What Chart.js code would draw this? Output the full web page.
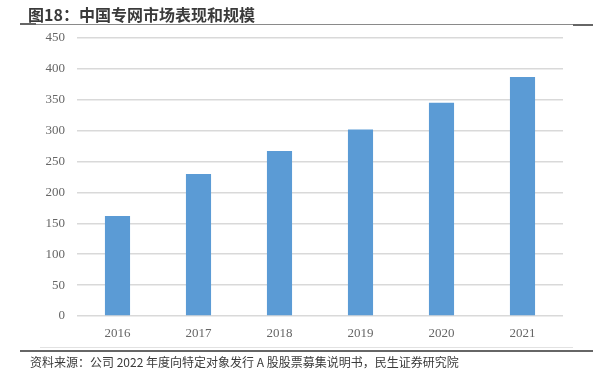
<!DOCTYPE html>
<html>
<head>
<meta charset="utf-8">
<script src="https://cdn.jsdelivr.net/npm/chart.js@4.4.1/dist/chart.umd.min.js"></script>
<style>
  html, body { margin: 0; padding: 0; background: #fff; }
  #wrap { position: relative; width: 601px; height: 388px; overflow: hidden; }
  #chartBox { position: absolute; left: 0; top: 0; width: 601px; height: 388px; }
  .title { position: absolute; left: 28px; top: 2px; font: bold 16px "Noto Sans CJK SC", sans-serif; color: #3a3a3a; white-space: nowrap; }
  .source { position: absolute; left: 30px; top: 353px; font: 12px "Noto Sans CJK SC", sans-serif; color: #3a3a3a; white-space: nowrap; }
  .line { position: absolute; }
</style>
</head>
<body>
<div id="wrap">
  <div id="chartBox"><canvas id="chartMercado"></canvas></div>
  <div class="title">图18：中国专网市场表现和规模</div>
  <div class="line" style="left:20px; top:24px; width:573px; height:1px; background:#8a8a8a;"></div>
  <div class="line" style="left:20px; top:23px; width:16px; height:2px; background:#666;"></div>
  <div class="line" style="left:573px; top:24px; width:20px; height:2px; background:#666;"></div>
  <div class="line" style="left:40px; top:347px; width:533px; height:1px; background:#e2e2e2;"></div>
  <div class="line" style="left:20px; top:350px; width:573px; height:2px; background:#666;"></div>
  <div class="source">资料来源：公司 2022 年度向特定对象发行 A 股股票募集说明书，民生证券研究院</div>
</div>
<script>
const years = ['2016', '2017', '2018', '2019', '2020', '2021'];
const marketSize = [162, 230, 267, 302, 345, 387];
const yTicks = [0, 50, 100, 150, 200, 250, 300, 350, 400, 450];

const ctx = document.getElementById('chartMercado');

new Chart(ctx, {
  type: 'bar',
  data: {
    labels: years,
    datasets: [{
      label: '市场规模',
      data: marketSize,
      backgroundColor: '#5b9bd5',
      borderWidth: 0,
      categoryPercentage: 1,
      barPercentage: 0.31
    }]
  },
  options: {
    responsive: true,
    maintainAspectRatio: false,
    animation: false,
    layout: {
      padding: { left: 0, right: 38, top: 38, bottom: 42 }
    },
    plugins: {
      legend: { display: false },
      tooltip: { enabled: false }
    },
    scales: {
      x: {
        grid: { display: false },
        border: { display: false },
        ticks: {
          padding: 2,
          color: '#666',
          font: { family: '"Liberation Serif", serif', size: 13 }
        },
        afterFit: (scale) => { scale.height = 30; }
      },
      y: {
        min: 0,
        max: 450,
        afterBuildTicks: (scale) => {
          scale.ticks = yTicks.map(v => ({ value: v }));
        },
        grid: { color: '#d9d9d9', lineWidth: 1.5, drawTicks: false },
        border: { display: false },
        ticks: {
          padding: 12,
          color: '#666',
          font: { family: '"Liberation Serif", serif', size: 13 }
        },
        afterFit: (scale) => { scale.width = 77; }
      }
    }
  }
});
</script>
</body>
</html>
